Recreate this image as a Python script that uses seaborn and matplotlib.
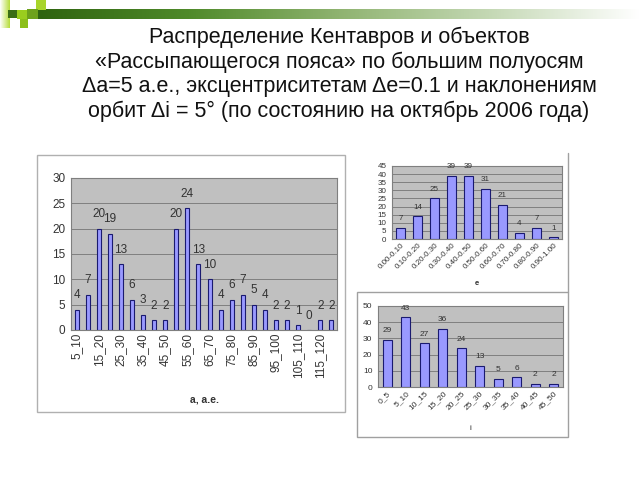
import numpy as np
import pandas as pd
import matplotlib
matplotlib.use("Agg")
import matplotlib.pyplot as plt
import seaborn as sns
from matplotlib.patches import Rectangle
from matplotlib.lines import Line2D

# ---------------- data ----------------
a_labels = ["5_10", "10_15", "15_20", "20_25", "25_30", "30_35", "35_40", "40_45",
            "45_50", "50_55", "55_60", "60_65", "65_70", "70_75", "75_80", "80_85",
            "85_90", "90_95", "95_100", "100_105", "105_110", "110_115", "115_120", "120_125"]
a_values = [4, 7, 20, 19, 13, 6, 3, 2, 2, 20, 24, 13, 10, 4, 6, 7, 5, 4, 2, 2, 1, 0, 2, 2]

e_labels = ["0.00-0.10", "0.10-0.20", "0.20-0.30", "0.30-0.40", "0.40-0.50",
            "0.50-0.60", "0.60-0.70", "0.70-0.80", "0.80-0.90", "0.90-1.00"]
e_values = [7, 14, 25, 39, 39, 31, 21, 4, 7, 1]

i_labels = ["0_5", "5_10", "10_15", "15_20", "20_25", "25_30", "30_35", "35_40", "40_45", "45_50"]
i_values = [29, 43, 27, 36, 24, 13, 5, 6, 2, 2]

title_lines = ["Распределение Кентавров и объектов",
               "«Рассыпающегося пояса» по большим полуосям",
               "Δa=5 а.е., эксцентриситетам Δe=0.1 и наклонениям",
               "орбит Δi = 5° (по состоянию на октябрь 2006 года)"]

# ---------------- style ----------------
sns.set_style("white")
plt.rcParams["font.family"] = ["Liberation Sans", "DejaVu Sans"]

BAR = "#9999ff"
EDGE = "#1a1a70"
BG = "#c0c0c0"
GRID = "#7f7f7f"
TXT = "#333333"

W, H = 640, 480
fig = plt.figure(figsize=(6.4, 4.8), dpi=100)
fig.patch.set_facecolor("white")


def fx(x):
    return x / W


def fy(y):
    return 1 - y / H


def axes_px(x0, y0, x1, y1):
    return fig.add_axes([fx(x0), fy(y1), fx(x1) - fx(x0), (y1 - y0) / H])


# ---------------- decoration (green band) ----------------
band = fig.add_axes([fx(38), fy(19), fx(640) - fx(38), 10 / H])
grad = np.linspace(0, 1, 256)
cmap = matplotlib.colors.LinearSegmentedColormap.from_list(
    "g", ["#2f6410", "#4f8a2a", "#8fb370", "#c4d8b4", "#ffffff"])
band.imshow(grad[None, :], aspect="auto", cmap=cmap, extent=[0, 1, 0, 1])
band.axis("off")

lime_grad = fig.add_axes([fx(0), fy(28), fx(10), 28 / H])
lg = matplotlib.colors.LinearSegmentedColormap.from_list("l", ["#ffffff", "#b6dd3a"])
lime_grad.imshow(np.linspace(0, 1, 64)[None, :], aspect="auto", cmap=lg, extent=[0, 1, 0, 1])
lime_grad.axis("off")
for (x0, y0, x1, y1, c) in [(8, 10, 17, 18, "#3b6e16"), (17, 10, 27, 19, "#9acd1e"),
                            (20, 19, 28, 28, "#8cbf1a"), (36, 0, 46, 10, "#a8d52a"),
                            (27, 9, 38, 19, "#6ea21c")]:
    fig.patches.append(Rectangle((fx(x0), fy(y1)), fx(x1) - fx(x0), (y1 - y0) / H,
                                 transform=fig.transFigure, color=c, lw=0))

# ---------------- title ----------------
fig.text(fx(339), fy(27), "\n".join(title_lines), ha="center", va="top",
         fontsize=15.5, color="#111111", linespacing=1.2)

# ---------------- panel borders ----------------
fig.patches.append(Rectangle((fx(37), fy(412)), fx(345) - fx(37), (412 - 155) / H,
                             transform=fig.transFigure, fill=False, ec="#b0b0b0", lw=1))
fig.patches.append(Rectangle((fx(357), fy(437)), fx(568) - fx(357), (437 - 292) / H,
                             transform=fig.transFigure, fill=False, ec="#a0a0a0", lw=1))
fig.lines.append(Line2D([fx(568), fx(568)], [fy(153), fy(292)],
                        transform=fig.transFigure, color="#a0a0a0", lw=1))


def draw(ax, cats, vals, width, fs, ymax, ystep, pad, xlab, xlab_fs, xlab_bold):
    df = pd.DataFrame({"cat": cats, "val": vals})
    sns.barplot(data=df, x="cat", y="val", order=cats, ax=ax, color=BAR,
                saturation=1, width=width, edgecolor=EDGE, linewidth=0.8)
    ax.set_facecolor(BG)
    ax.set_xlim(-0.5, len(cats) - 0.5)
    ax.set_ylim(0, ymax)
    ax.set_yticks(np.arange(0, ymax + 0.1, ystep))
    ax.yaxis.grid(True, color=GRID, lw=0.7)
    ax.xaxis.grid(False)
    ax.set_axisbelow(True)
    for s in ax.spines.values():
        s.set_color(GRID)
        s.set_linewidth(0.8)
    ax.bar_label(ax.containers[0], fontsize=fs, padding=pad, color=TXT)
    ax.set_ylabel("")
    ax.set_xlabel(xlab, fontsize=xlab_fs, color=TXT,
                  fontweight="bold" if xlab_bold else "normal")
    ax.tick_params(axis="y", labelsize=fs, colors=TXT, length=2, width=0.6, pad=2)
    ax.tick_params(axis="x", labelsize=fs, colors=TXT, length=0, pad=2)
    ax.set_xticks(np.arange(-0.5, len(cats), 1), minor=True)
    ax.tick_params(axis="x", which="minor", length=2.5, width=0.6, color=GRID)
    return ax


# left chart: semi-major axis
ax1 = axes_px(71, 178, 337, 330)
draw(ax1, a_labels, a_values, 0.36, 8.5, 30, 5, 6, "a, a.e.", 7.5, True)
ax1.set_xticks(np.arange(0, len(a_labels), 2))
ax1.set_xticklabels(a_labels[::2], rotation=90, fontsize=8.5, color=TXT)
ax1.xaxis.labelpad = 12

# top-right chart: eccentricity
ax2 = axes_px(392, 166, 562, 239)
draw(ax2, e_labels, e_values, 0.5, 5.8, 45, 5, 4, "e", 5.5, True)
ax2.set_xticks(np.arange(len(e_labels)))
ax2.set_xticklabels(e_labels, rotation=45, ha="right", rotation_mode="anchor",
                    fontsize=5.8, color=TXT)
ax2.xaxis.labelpad = 7

# bottom-right chart: inclination
ax3 = axes_px(378, 306, 563, 387)
draw(ax3, i_labels, i_values, 0.5, 6, 50, 10, 4, "i", 6, False)
ax3.set_xticks(np.arange(len(i_labels)))
ax3.set_xticklabels(i_labels, rotation=45, ha="right", rotation_mode="anchor",
                    fontsize=6, color=TXT)
ax3.xaxis.labelpad = 10

fig.savefig("out.png", dpi=100)
